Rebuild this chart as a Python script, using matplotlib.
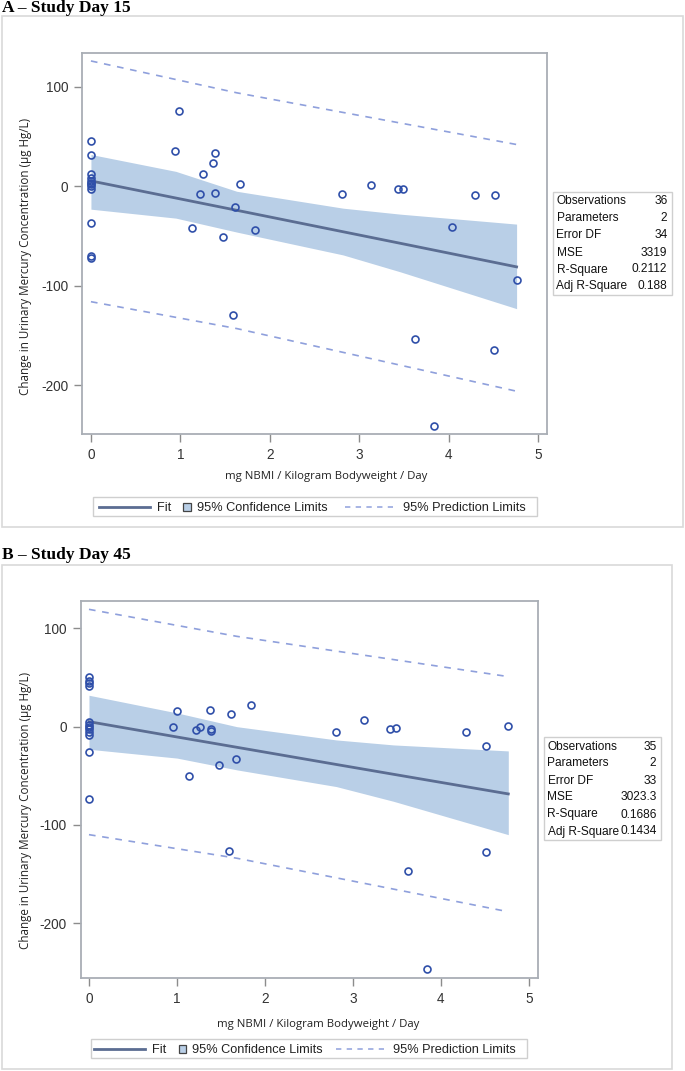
import numpy as np
import matplotlib
matplotlib.use('Agg')
import matplotlib.pyplot as plt
from matplotlib.patches import Rectangle
from matplotlib.lines import Line2D

plt.rcParams['axes.unicode_minus'] = False

# ---- data ----
# Panel A - Study Day 15
a_x = [0, 0, 0, 0, 0, 0, 0, 0, 0, 0, 0, 0,
       0.94, 0.99, 1.13, 1.22, 1.25, 1.37, 1.39, 1.39, 1.48, 1.61, 1.67, 1.84, 1.59,
       2.81, 3.13, 3.43, 3.49, 4.29, 4.52, 4.04, 4.77, 3.62, 4.51, 3.84]
a_y = [46, 31, 12, 8, 5, 2, 0, -3, -37, -70, -72, 3,
       35, 76, -42, -8, 12, 23, 33, -7, -51, -21, 2, -44, -129,
       -8, 1, -3, -3, -9, -9, -41, -94.5, -153, -165, -241]
a_band_x = [0, 0.95, 1.63, 2.82, 3.46, 4.76]
a_fit = [5.4, -11.8, -24.1, -45.7, -57.3, -81]
a_cl_up = [32, 15, -5, -22, -28, -38]
a_cl_lo = [-23, -32, -46, -69, -86, -123]
a_pl_x = [0, 1.63, 4.76]
a_pl_up = [126, 94, 42]
a_pl_lo = [-116, -143, -206]
a_stats = [('Observations', '36'), ('Parameters', '2'), ('Error DF', '34'),
           ('MSE', '3319'), ('R-Square', '0.2112'), ('Adj R-Square', '0.188')]

# Panel B - Study Day 45
b_x = [0, 0, 0, 0, 0, 0, 0, 0, 0, 0, 0, 0,
       0.95, 1.0, 1.14, 1.22, 1.26, 1.37, 1.39, 1.39, 1.48, 1.61, 1.67, 1.84, 1.59,
       2.81, 3.125, 3.42, 3.49, 4.28, 4.51, 4.765, 4.51, 3.62, 3.84]
b_y = [51, 47, 44, 41, 5, 2, 0, -2, -5, -8, -26, -74,
       0, 15.6, -50.5, -3.7, 0, 16.7, -2, -4.4, -39, 12.6, -32.6, 22, -127,
       -5.7, 7, -2.3, -1.3, -5.7, -19.7, 1, -128, -147, -247]
b_band_x = [0, 1.0, 1.68, 2.81, 3.46, 4.765]
b_fit = [5.1, -10.5, -21, -38.5, -48.5, -68.5]
b_cl_up = [32, 14, 0, -13.5, -18.6, -24.7]
b_cl_lo = [-23, -32, -44, -61, -76, -110]
b_pl_x = [0, 1.68, 4.765]
b_pl_up = [119.5, 92, 51]
b_pl_lo = [-110, -134, -188.5]
b_stats = [('Observations', '35'), ('Parameters', '2'), ('Error DF', '33'),
           ('MSE', '3023.3'), ('R-Square', '0.1686'), ('Adj R-Square', '0.1434')]

W, H = 685, 1071
C_MARK = '#2F4FA9'
C_BAND = '#B9CFE7'
C_FIT = '#5B6D92'
C_PL = '#8FA0DC'
C_SPINE = '#A9AEB5'
SANS = ['Liberation Sans', 'DejaVu Sans']
LBL = ['Open Sans', 'DejaVu Sans']

fig = plt.figure(figsize=(W / 100, H / 100), dpi=100)


def fx(x):
    return x / W


def fy(y):
    return 1 - y / H


def px_axes(l, t, r, b):
    return fig.add_axes([fx(l), fy(b), (r - l) / W, (b - t) / H])


def frame(l, t, r, b, color, lw=1.0):
    fig.patches.append(Rectangle((fx(l), fy(b)), (r - l) / W, (b - t) / H,
                                 transform=fig.transFigure, fill=False,
                                 edgecolor=color, lw=lw))


def panel(title, title_y, outer, box, xlim, ylim, xs, ys, bx, fit, cu, cl,
          plx, plu, pll, stats, sbox, ylab_pos, xlab_pos, leg):
    fig.text(fx(2), fy(title_y), title, family=['Liberation Serif'],
             weight='bold', fontsize=12.5, va='center', ha='left')
    frame(*outer, color='#D9D9D9', lw=1.2)
    ax = px_axes(*box)
    ax.fill_between(bx, cl, cu, color=C_BAND, lw=0)
    ax.plot(bx, fit, color=C_FIT, lw=2)
    ax.plot(plx, plu, color=C_PL, lw=1.2, dashes=(4, 4))
    ax.plot(plx, pll, color=C_PL, lw=1.2, dashes=(4, 4))
    ax.plot(xs, ys, 'o', mfc='none', mec=C_MARK, ms=5, mew=1.2)
    ax.set_xlim(*xlim)
    ax.set_ylim(*ylim)
    ax.set_xticks([0, 1, 2, 3, 4, 5])
    ax.set_yticks([-200, -100, 0, 100])
    for s in ax.spines.values():
        s.set_color(C_SPINE)
        s.set_linewidth(1.3)
    ax.tick_params(length=6, width=1, color='#8C8C8C', labelcolor='#333333',
                   labelsize=9.8, pad=4)
    for lab in ax.get_xticklabels() + ax.get_yticklabels():
        lab.set_family(SANS)

    fig.text(fx(ylab_pos[0]), fy(ylab_pos[1]),
             'Change in Urinary Mercury Concentration (\u00b5g Hg/L)',
             rotation=90, ha='center', va='center', fontsize=8.4,
             family=LBL, color='#222222')
    fig.text(fx(xlab_pos[0]), fy(xlab_pos[1]),
             'mg NBMI / Kilogram Bodyweight / Day',
             ha='center', va='center', fontsize=8.2, family=LBL,
             color='#222222')

    # fit statistics inset
    sl, st, sr, sb = sbox
    frame(sl, st, sr, sb, color='#CFCFCF', lw=1.0)
    for i, (k, v) in enumerate(stats):
        yy = st + 8 + 17 * i
        fig.text(fx(sl + 3.5), fy(yy), k, ha='left', va='center_baseline',
                 fontsize=8.6, family=SANS, color='#111111')
        fig.text(fx(sr - 4.5), fy(yy), v, ha='right', va='center_baseline',
                 fontsize=8.6, family=SANS, color='#111111')

    # legend
    ll, lt, lr, lb, off = leg
    frame(ll, lt, lr, lb, color='#CFCFCF', lw=1.0)
    yc = (lt + lb) / 2
    fig.lines.append(Line2D([fx(ll + 6 + off[0]), fx(ll + 57 + off[0])],
                            [fy(yc), fy(yc)], transform=fig.transFigure,
                            color=C_FIT, lw=2))
    fig.text(fx(ll + 64 + off[0]), fy(yc), 'Fit', ha='left',
             va='center_baseline', fontsize=9.2, family=SANS, color='#222222')
    fig.patches.append(Rectangle((fx(ll + 90.5 + off[0]), fy(yc + 4)),
                                 7.5 / W, 8 / H, transform=fig.transFigure,
                                 facecolor=C_BAND, edgecolor='#444444',
                                 lw=0.9))
    fig.text(fx(ll + 104.5 + off[0]), fy(yc), '95% Confidence Limits',
             ha='left', va='center_baseline', fontsize=9.2, family=SANS,
             color='#222222')
    fig.lines.append(Line2D([fx(ll + 252 + off[1]), fx(ll + 300 + off[1])],
                            [fy(yc), fy(yc)], transform=fig.transFigure,
                            color=C_PL, lw=1.1, dashes=(3.5, 3.5)))
    fig.text(fx(ll + 310 + off[1]), fy(yc), '95% Prediction Limits',
             ha='left', va='center_baseline', fontsize=9.2, family=SANS,
             color='#222222')
    return ax


panel('A \u2013 Study Day 15', 8, (2, 16, 683, 527), (82, 53, 547, 434),
      (-0.1, 5.1), (-249, 134), a_x, a_y, a_band_x, a_fit, a_cl_up, a_cl_lo,
      a_pl_x, a_pl_up, a_pl_lo, a_stats, (553, 192, 672, 295),
      (26, 256), (326, 477), (92.7, 497, 536.7, 516, (0, 0)))

panel('B \u2013 Study Day 45', 555, (2, 565, 672, 1069), (80.7, 601, 538.3, 978),
      (-0.094, 5.106), (-256, 128), b_x, b_y, b_band_x, b_fit, b_cl_up, b_cl_lo,
      b_pl_x, b_pl_up, b_pl_lo, b_stats, (544, 737, 661, 840),
      (25.5, 810), (318, 1025), (91, 1039, 527, 1058, (-3, -7.5)))

fig.savefig('out.png', dpi=100, facecolor='white')
